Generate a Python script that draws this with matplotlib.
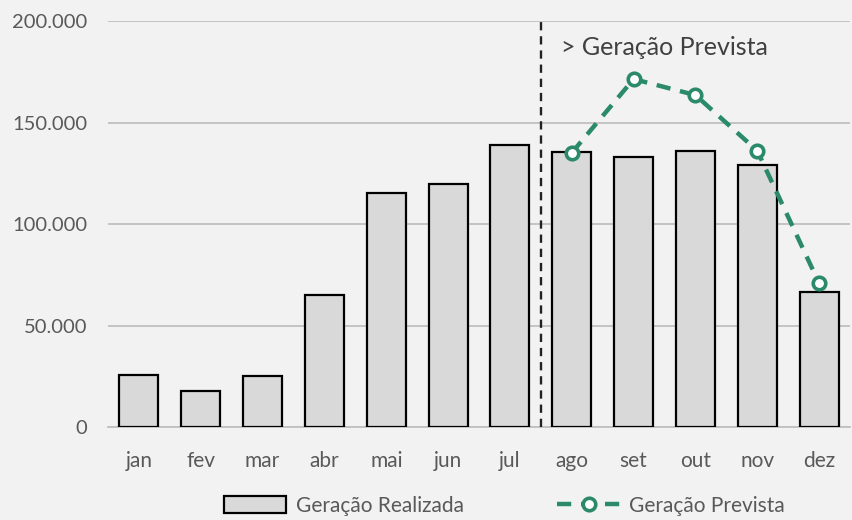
import matplotlib
matplotlib.use("Agg")
import matplotlib.pyplot as plt
from matplotlib.ticker import FuncFormatter, MultipleLocator

months = ["jan", "fev", "mar", "abr", "mai", "jun", "jul", "ago", "set", "out", "nov", "dez"]
realizada = [25600, 17900, 25100, 65000, 115300, 119700, 138900, 135300, 133000, 135800, 129200, 66700]
prev_months = ["ago", "set", "out", "nov", "dez"]
prevista = [135100, 171400, 163500, 136100, 70800]

plt.rcParams['font.family'] = ['Lato', 'DejaVu Sans']
BG = "#f2f2f2"
TXT = "#595959"
GREEN = "#2a8a6a"

fig = plt.figure(figsize=(8.52, 5.2), dpi=100, facecolor=BG)
ax = fig.add_axes([0.1268, 0.1788, 0.8709, 0.7808], facecolor=BG)

x = list(range(len(months)))
bars = ax.bar(x, realizada, width=0.63, color="#d9d9d9", edgecolor="black", linewidth=1.6,
              label="Geração Realizada", zorder=3)
px = [months.index(m) for m in prev_months]
line, = ax.plot(px, prevista, color=GREEN, lw=3.2, ls=(0, (3.2, 2.2)), marker="o", ms=9,
                mfc="white", mec=GREEN, mew=2.6, label="Geração Prevista", zorder=4)
ax.axvline(6.5, color="#222222", lw=1.7, ls=(0, (3.5, 2.5)), zorder=5)
ax.text(6.83, 187000, "> Geração Prevista", fontsize=18, color="#404040", va="center", ha="left")

ax.set_xlim(-0.5, 11.5)
ax.set_ylim(0, 200000)
ax.yaxis.set_major_locator(MultipleLocator(50000))
ax.yaxis.set_major_formatter(FuncFormatter(lambda v, p: f"{int(v):,}".replace(",", ".")))
ax.grid(axis="y", color="#c0c0c0", lw=1.3, zorder=0)
ax.set_xticks(x)
ax.set_xticklabels(months)
for s in ["top", "right", "left"]:
    ax.spines[s].set_visible(False)
ax.spines["bottom"].set_color("#c0c0c0")
ax.spines["bottom"].set_linewidth(1.3)
ax.tick_params(axis="both", length=0, colors=TXT)
ax.tick_params(axis="x", pad=17, labelsize=15)
ax.tick_params(axis="y", pad=15, labelsize=14.5)

leg = fig.legend([bars, line], ["Geração Realizada", "Geração Prevista"],
                 loc="lower center", bbox_to_anchor=(0.592, -0.028), ncol=2, frameon=False,
                 fontsize=15, labelcolor=TXT, handlelength=3.0, columnspacing=4.5,
                 handletextpad=0.45, handleheight=0.9)

fig.savefig("out.png", dpi=100, facecolor=BG)
